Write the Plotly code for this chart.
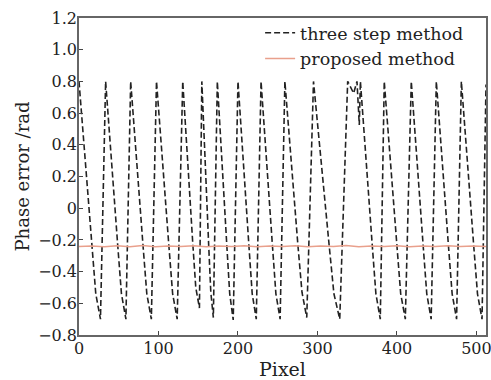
import plotly.graph_objects as go

# three step method: vertices (peaks, fall points, troughs)
three_x = [0, 16.2, 21.1, 27,
           33.5, 48.8, 53.4, 59,
           65, 80.6, 85.3, 91,
           97.5, 113.1, 117.8, 123.5,
           130.5, 143.1, 146.9, 151.5,
           154.5, 163.2, 165.8, 169,
           174, 186, 189.6, 194,
           200, 213.8, 217.9, 223,
           229, 243.4, 247.7, 253,
           259, 275.5, 280.5, 286.5,
           295, 314.8, 320.7, 328,
           338, 345.5, 349.7, 352.6, 354, 369, 373.5, 379,
           384, 400, 404.7, 410.5,
           418, 433, 437.5, 443,
           449.5, 464.8, 469.4, 475,
           481, 496.6, 501.3, 507,
           512]
three_y = [0.8, -0.24, -0.54, -0.7,
           0.8, -0.24, -0.54, -0.7,
           0.8, -0.24, -0.54, -0.7,
           0.8, -0.24, -0.54, -0.7,
           0.8, -0.22, -0.5, -0.63,
           0.8, -0.24, -0.53, -0.69,
           0.8, -0.24, -0.54, -0.705,
           0.8, -0.24, -0.54, -0.7,
           0.8, -0.24, -0.54, -0.7,
           0.8, -0.24, -0.53, -0.69,
           0.8, -0.24, -0.54, -0.7,
           0.8, 0.725, 0.8, 0.525, 0.8, -0.24, -0.54, -0.7,
           0.8, -0.24, -0.54, -0.7,
           0.8, -0.24, -0.54, -0.7,
           0.8, -0.24, -0.54, -0.7,
           0.8, -0.24, -0.54, -0.7,
           0.78]

# proposed method: nearly flat around -0.24
prop_x = [0, 16, 32, 48, 64, 80, 96, 112, 128, 144, 160, 176, 192, 208, 224, 240,
          256, 272, 288, 304, 320, 336, 352, 368, 384, 400, 416, 432, 448, 464, 480, 496, 512]
prop_y = [-0.242, -0.238, -0.244, -0.237, -0.243, -0.236, -0.244, -0.239, -0.242, -0.237,
          -0.243, -0.238, -0.242, -0.237, -0.243, -0.239, -0.241, -0.237, -0.243, -0.238,
          -0.242, -0.236, -0.243, -0.238, -0.241, -0.237, -0.243, -0.238, -0.241, -0.237,
          -0.242, -0.239, -0.241]

y_ticks = [-0.8, -0.6, -0.4, -0.2, 0, 0.2, 0.4, 0.6, 0.8, 1.0, 1.2]
y_tick_text = ["\u22120.8", "\u22120.6", "\u22120.4", "\u22120.2", "0", "0.2", "0.4", "0.6", "0.8", "1.0", "1.2"]
x_ticks = [0, 100, 200, 300, 400, 500]

font_family = "DejaVu Serif, Liberation Serif, serif"

fig = go.Figure()
fig.add_trace(go.Scatter(x=three_x, y=three_y, mode="lines", name="three step method",
                         line=dict(color="#222222", width=1.6, dash="6px,3px")))
fig.add_trace(go.Scatter(x=prop_x, y=prop_y, mode="lines", name="proposed method",
                         line=dict(color="#e9a08c", width=1.5)))

fig.update_layout(
    width=491, height=380,
    margin=dict(l=79, r=5, t=18, b=45),
    paper_bgcolor="white", plot_bgcolor="white",
    font=dict(family=font_family, size=16, color="#222222"),
    showlegend=True,
    legend=dict(x=0.445, y=1.01, xanchor="left", yanchor="top", bgcolor="rgba(0,0,0,0)",
                font=dict(size=17.5), tracegroupgap=0),
    xaxis=dict(range=[0, 512], tickvals=x_ticks, ticks="inside", ticklen=4,
               showgrid=False, zeroline=False, showline=True, linecolor="#666666",
               linewidth=1.5, mirror=True, automargin=False, ticklabelstandoff=-2,
               ticklabeloverflow="allow",
               title=dict(text="Pixel", standoff=6, font=dict(size=19)),
               tickfont=dict(size=16)),
    yaxis=dict(range=[-0.8, 1.2], tickvals=y_ticks, ticktext=y_tick_text,
               ticks="inside", ticklen=4, showgrid=False, zeroline=False, showline=True,
               linecolor="#666666", linewidth=1.5, mirror=True, automargin=False,
               ticklabelstandoff=-3, ticklabeloverflow="allow",
               title=dict(text="Phase error /rad", standoff=4, font=dict(size=18)),
               tickfont=dict(size=16)),
)

fig.write_html("out.html", config={"displayModeBar": False},
               post_script="document.body.style.margin='0';document.body.style.overflow='hidden';")
